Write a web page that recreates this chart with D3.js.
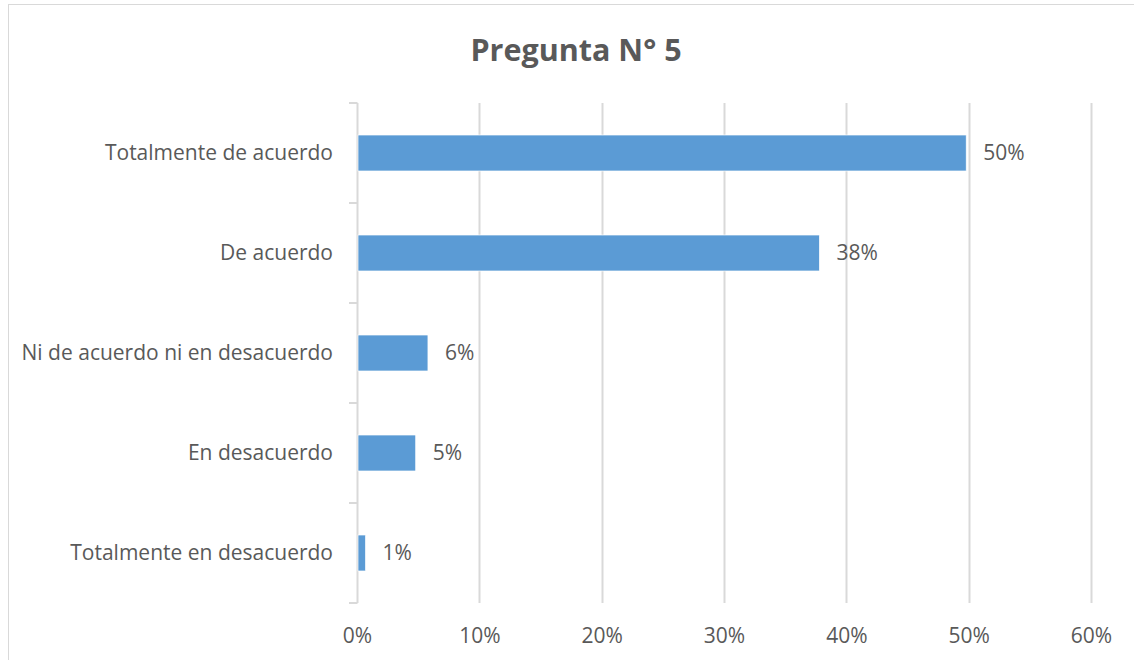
<!DOCTYPE html>
<html>
<head>
<meta charset="utf-8">
<script src="https://cdn.jsdelivr.net/npm/d3@7"></script>
<style>
body { margin: 0; background: #fff; }
text { font-family: "Open Sans", sans-serif; fill: #595959; }
</style>
</head>
<body>
<div id="chart"></div>
<script>
const categories = ['Totalmente de acuerdo', 'De acuerdo', 'Ni de acuerdo ni en desacuerdo', 'En desacuerdo', 'Totalmente en desacuerdo']
const values = [0.498, 0.378, 0.058, 0.048, 0.007]
const valueLabels = ['50%', '38%', '6%', '5%', '1%']
const xTicks = [0, 0.1, 0.2, 0.3, 0.4, 0.5, 0.6]

const width = 1134, height = 660
const margin = {left:357, top:103, right:43, bottom:57}

const svg = d3.select('#chart')
.append('svg')
.attr('width', width)
.attr('height', height)

// chart border
svg.append('rect')
.attr('x', 8.5).attr('y', 4.5)
.attr('width', 1140).attr('height', 700)
.attr('fill', 'none')
.attr('stroke', '#d9d9d9')

svg.append('text')
.attr('x', 576).attr('y', 61)
.attr('text-anchor', 'middle')
.style('font-size', '30.5px')
.style('font-weight', 'bold')
.text('Pregunta N° 5')

const x = d3.scaleLinear()
.domain([0, 0.6])
.range([margin.left, width - margin.right])

const y = d3.scaleBand()
.domain(categories)
.range([margin.top, height - margin.bottom])
.paddingInner(0.64)
.paddingOuter(0.32)

// gridlines
svg.append('g')
.selectAll('line')
.data(xTicks.slice(1))
.join('line')
.attr('x1', d => Math.round(x(d)) + 0.5)
.attr('x2', d => Math.round(x(d)) + 0.5)
.attr('y1', margin.top)
.attr('y2', height - margin.bottom)
.attr('stroke', '#d9d9d9')
.attr('stroke-width', 2)

// x axis labels
const xaxis = svg.append('g')
.attr('transform', `translate(0,${height - margin.bottom})`)
.call(d3.axisBottom(x).tickValues(xTicks).tickFormat(d3.format('.0%')).tickSize(0).tickPadding(25))
xaxis.select('.domain').remove()
xaxis.selectAll('text').style('font-size', '21px').style('fill', '#595959').style('font-family', '"Open Sans", sans-serif')

// y axis
const step = y.step()
const yaxis = svg.append('g')
yaxis.append('line')
.attr('x1', margin.left + 0.5).attr('x2', margin.left + 0.5)
.attr('y1', margin.top).attr('y2', height - margin.bottom)
.attr('stroke', '#d9d9d9').attr('stroke-width', 2)
yaxis.selectAll('.tick-mark')
.data(d3.range(categories.length + 1))
.join('line')
.attr('class', 'tick-mark')
.attr('x1', margin.left - 8).attr('x2', margin.left + 0.5)
.attr('y1', i => margin.top + i * step).attr('y2', i => margin.top + i * step)
.attr('stroke', '#d9d9d9').attr('stroke-width', 2)

yaxis.selectAll('.cat')
.data(categories)
.join('text')
.attr('class', 'cat')
.attr('x', 333)
.attr('y', d => y(d) + y.bandwidth() / 2)
.attr('dy', '0.35em')
.attr('text-anchor', 'end')
.style('font-size', '21px')
.text(d => d)

// bars
svg.append('g')
.selectAll('rect')
.data(categories)
.join('rect')
.attr('x', x(0) + 1)
.attr('y', d => y(d))
.attr('width', (d, i) => x(values[i]) - x(0) - 1)
.attr('height', y.bandwidth())
.attr('fill', '#5b9bd5')
.attr('stroke', '#ffffff')
.attr('stroke-width', 0.7)

svg.append('g')
.selectAll('text')
.data(categories)
.join('text')
.attr('x', (d, i) => x(values[i]) + 17)
.attr('y', d => y(d) + y.bandwidth() / 2)
.attr('dy', '0.35em')
.style('font-size', '21px')
.text((d, i) => valueLabels[i])
</script>
</body>
</html>
